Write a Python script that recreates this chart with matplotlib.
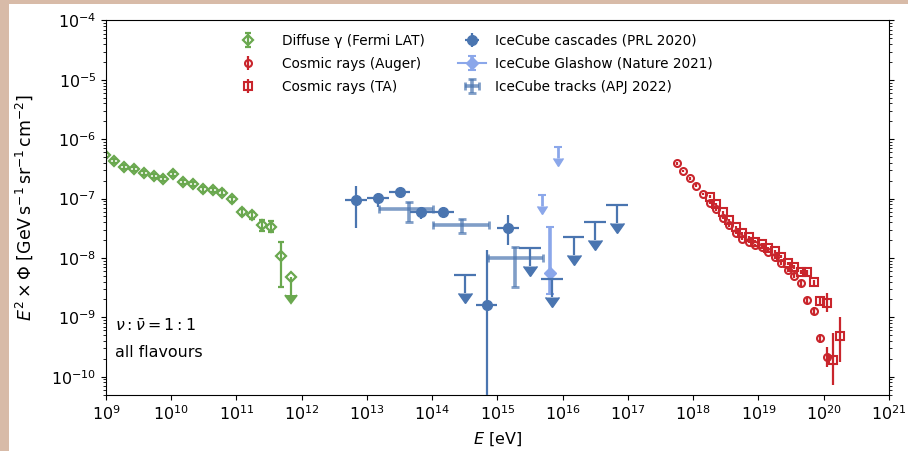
import matplotlib.pyplot as plt
import numpy as np
from matplotlib import lines as mlines
from matplotlib.patches import Rectangle
from matplotlib.ticker import LogLocator, NullLocator

GREEN = "#6aa84f"
RED = "#c9252c"
BLUE = "#4a75b0"
LIGHT_BLUE = "#8ba7ea"
BORDER = "#d8bba8"

# Fermi LAT diffuse gamma-ray background [eV], E^2 Phi [GeV s^-1 sr^-1 cm^-2]
fermi_E = [9.5e8, 1.34e9, 1.90e9, 2.69e9, 3.80e9, 5.38e9, 7.60e9, 1.08e10,
           1.52e10, 2.15e10, 3.04e10, 4.30e10, 6.08e10, 8.61e10, 1.22e11,
           1.72e11, 2.43e11, 3.44e11, 4.87e11]
fermi_flux = [5.43e-7, 4.30e-7, 3.45e-7, 3.19e-7, 2.67e-7, 2.40e-7, 2.17e-7,
              2.57e-7, 1.88e-7, 1.76e-7, 1.43e-7, 1.40e-7, 1.26e-7, 9.73e-8,
              6.03e-8, 5.30e-8, 3.55e-8, 3.36e-8, 1.09e-8]
fermi_lo = [5.0e-7, 3.97e-7, 3.18e-7, 2.94e-7, 2.46e-7, 2.21e-7, 2.0e-7,
            2.37e-7, 1.73e-7, 1.62e-7, 1.31e-7, 1.28e-7, 1.15e-7, 8.8e-8,
            5.3e-8, 4.6e-8, 2.85e-8, 2.7e-8, 3.28e-9]
fermi_hi = [5.86e-7, 4.64e-7, 3.72e-7, 3.44e-7, 2.88e-7, 2.59e-7, 2.34e-7,
            2.77e-7, 2.03e-7, 1.90e-7, 1.55e-7, 1.52e-7, 1.37e-7, 1.07e-7,
            6.8e-8, 6.0e-8, 4.4e-8, 4.2e-8, 1.88e-8]
fermi_ul_E = [6.88e11]
fermi_ul_flux = [4.79e-9]

# Pierre Auger Observatory
auger_E = [5.62e17, 7.08e17, 8.91e17, 1.12e18, 1.41e18, 1.78e18, 2.24e18,
           2.82e18, 3.55e18, 4.47e18, 5.62e18, 7.08e18, 8.91e18, 1.12e19,
           1.41e19, 1.78e19, 2.24e19, 2.82e19, 3.55e19, 4.47e19, 5.62e19,
           7.08e19, 8.91e19, 1.12e20]
auger_flux = [3.94e-7, 2.92e-7, 2.20e-7, 1.65e-7, 1.20e-7, 8.53e-8, 6.61e-8,
              4.77e-8, 3.55e-8, 2.67e-8, 2.11e-8, 1.88e-8, 1.67e-8, 1.51e-8,
              1.28e-8, 1.03e-8, 8.13e-9, 6.28e-9, 4.98e-9, 3.74e-9, 1.94e-9,
              1.28e-9, 4.44e-10, 2.17e-10]
auger_lo = [3.75e-7, 2.78e-7, 2.09e-7, 1.57e-7, 1.14e-7, 8.1e-8, 6.28e-8,
            4.53e-8, 3.37e-8, 2.54e-8, 2.0e-8, 1.79e-8, 1.59e-8, 1.43e-8,
            1.21e-8, 9.7e-9, 7.6e-9, 5.8e-9, 4.6e-9, 3.4e-9, 1.71e-9,
            1.10e-9, 3.70e-10, 1.47e-10]
auger_hi = [4.13e-7, 3.06e-7, 2.31e-7, 1.73e-7, 1.26e-7, 8.96e-8, 6.94e-8,
            5.01e-8, 3.73e-8, 2.80e-8, 2.22e-8, 1.97e-8, 1.75e-8, 1.59e-8,
            1.35e-8, 1.09e-8, 8.7e-9, 6.8e-9, 5.4e-9, 4.1e-9, 2.2e-9,
            1.50e-9, 5.24e-10, 3.17e-10]

# Telescope Array
ta_E = [1.78e18, 2.24e18, 2.82e18, 3.55e18, 4.47e18, 5.62e18, 7.08e18,
        8.91e18, 1.12e19, 1.41e19, 1.78e19, 2.24e19, 2.82e19, 3.55e19,
        4.47e19, 5.62e19, 7.08e19, 8.91e19, 1.12e20, 1.41e20, 1.78e20]
ta_flux = [1.08e-7, 8.02e-8, 5.88e-8, 4.37e-8, 3.29e-8, 2.61e-8, 2.23e-8,
           1.88e-8, 1.70e-8, 1.47e-8, 1.29e-8, 1.05e-8, 8.13e-9, 7.13e-9,
           5.74e-9, 5.74e-9, 3.89e-9, 1.91e-9, 1.72e-9, 1.91e-10, 4.85e-10]
ta_lo = [1.03e-7, 7.65e-8, 5.6e-8, 4.16e-8, 3.13e-8, 2.48e-8, 2.12e-8,
         1.78e-8, 1.61e-8, 1.39e-8, 1.22e-8, 9.9e-9, 7.6e-9, 6.6e-9,
         5.3e-9, 5.2e-9, 3.55e-9, 1.62e-9, 1.25e-9, 7.26e-11, 1.79e-10]
ta_hi = [1.13e-7, 8.4e-8, 6.16e-8, 4.58e-8, 3.45e-8, 2.74e-8, 2.34e-8,
         1.98e-8, 1.79e-8, 1.55e-8, 1.36e-8, 1.11e-8, 8.7e-9, 7.7e-9,
         6.2e-9, 6.3e-9, 4.25e-9, 2.2e-9, 2.54e-9, 5.38e-10, 1.03e-9]

# IceCube cascades: measured bins
casc_E = [6.81e12, 1.47e13, 3.16e13, 6.81e13, 1.47e14, 6.81e14, 1.47e15]
casc_E_lo = [4.64e12, 1.0e13, 2.15e13, 4.64e13, 1.0e14, 4.64e14, 1.0e15]
casc_E_hi = [1.0e13, 2.15e13, 4.64e13, 1.0e14, 2.15e14, 1.0e15, 2.15e15]
casc_flux = [9.48e-8, 1.01e-7, 1.31e-7, 5.88e-8, 6.02e-8, 1.61e-9, 3.24e-8]
casc_lo = [3.16e-8, 7.31e-8, 1.15e-7, 4.48e-8, 5.1e-8, 1e-13, 1.65e-8]
casc_hi = [1.63e-7, 1.23e-7, 1.45e-7, 7.31e-8, 7.1e-8, 1.36e-8, 5.29e-8]

# IceCube cascades: upper limits
casc_ul_E = [3.16e14, 3.16e15, 6.81e15, 1.47e16, 3.16e16, 6.81e16]
casc_ul_E_lo = [2.15e14, 2.15e15, 4.64e15, 1.0e16, 2.15e16, 4.64e16]
casc_ul_E_hi = [4.64e14, 4.64e15, 1.0e16, 2.15e16, 4.64e16, 1.0e17]
casc_ul_flux = [5.17e-9, 1.46e-8, 4.37e-9, 2.28e-8, 4.08e-8, 7.80e-8]

# IceCube Glashow resonance event
glashow_E = [6.3e15]
glashow_flux = [5.58e-9]
glashow_lo = [2.47e-9]
glashow_hi = [3.36e-8]
glashow_ul_E = [4.75e15, 8.55e15]
glashow_ul_flux = [1.15e-7, 7.31e-7]

# IceCube through-going tracks
tracks_E = [4.45e13, 2.89e14, 1.85e15]
tracks_E_lo = [1.54e13, 1.04e14, 7.23e14]
tracks_E_hi = [1.04e14, 7.48e14, 5.04e15]
tracks_flux = [6.61e-8, 3.60e-8, 1.01e-8]
tracks_lo = [4.08e-8, 2.67e-8, 3.28e-9]
tracks_hi = [8.87e-8, 4.48e-8, 1.51e-8]


def asym(val, lo, hi):
    val = np.asarray(val)
    return [val - np.asarray(lo), np.asarray(hi) - val]


def set_arrow_size(container, size, color, mew=1.0):
    # errorbar sizes the limit carets from capsize; override them directly
    for cap in container.lines[1]:
        if cap.get_marker() in (mlines.CARETDOWNBASE, mlines.CARETUPBASE):
            cap.set_markersize(size)
            cap.set_markeredgewidth(mew)
            cap.set_markerfacecolor(color)
            cap.set_markeredgecolor(color)


fig = plt.figure(figsize=(9.08, 4.51), dpi=100)
fig.patch.set_facecolor("white")
fig.patches.append(Rectangle((0, 0), 8.5 / 908, 1, transform=fig.transFigure,
                             facecolor=BORDER, edgecolor="none", zorder=-1))
fig.patches.append(Rectangle((0, 1 - 4 / 451), 1, 4 / 451,
                             transform=fig.transFigure, facecolor=BORDER,
                             edgecolor="none", zorder=-1))

ax = fig.add_axes([0.1167, 0.1242, 0.8623, 0.8304])

# gamma rays
h_fermi = ax.errorbar(fermi_E, fermi_flux, yerr=asym(fermi_flux, fermi_lo, fermi_hi),
                      fmt="D", ms=4.8, mfc="none", mec=GREEN, mew=1.6,
                      color=GREEN, elinewidth=1.6, capsize=2, capthick=1.4,
                      label="Diffuse γ (Fermi LAT)")
ul = ax.errorbar(fermi_ul_E, fermi_ul_flux, yerr=0.5 * np.array(fermi_ul_flux),
                 uplims=True, fmt="D", ms=4.8, mfc="none", mec=GREEN, mew=1.6,
                 color=GREEN, elinewidth=1.6, capsize=0)
set_arrow_size(ul, 8, GREEN, mew=1.5)

# cosmic rays
h_auger = ax.errorbar(auger_E, auger_flux, yerr=asym(auger_flux, auger_lo, auger_hi),
                      fmt="o", ms=5, mfc="none", mew=1.5, color=RED,
                      elinewidth=1.6, capsize=0, label="Cosmic rays (Auger)")
h_ta = ax.errorbar(ta_E, ta_flux, yerr=asym(ta_flux, ta_lo, ta_hi),
                   fmt="s", ms=5.2, mfc="none", mew=1.5, color=RED,
                   elinewidth=1.6, capsize=0, label="Cosmic rays (TA)")

# neutrinos
h_tracks = ax.errorbar(tracks_E, tracks_flux,
                       xerr=asym(tracks_E, tracks_E_lo, tracks_E_hi),
                       yerr=asym(tracks_flux, tracks_lo, tracks_hi),
                       fmt="none", color=BLUE, ecolor=BLUE, alpha=0.7,
                       elinewidth=2.6, capsize=3, capthick=2, zorder=3,
                       label="IceCube tracks (APJ 2022)")
h_casc = ax.errorbar(casc_E, casc_flux,
                     xerr=asym(casc_E, casc_E_lo, casc_E_hi),
                     yerr=asym(casc_flux, casc_lo, casc_hi),
                     fmt="o", ms=7, color=BLUE, elinewidth=1.6, capsize=0,
                     zorder=5, label="IceCube cascades (PRL 2020)")
ul = ax.errorbar(casc_ul_E, casc_ul_flux,
                 xerr=asym(casc_ul_E, casc_ul_E_lo, casc_ul_E_hi),
                 yerr=0.5 * np.array(casc_ul_flux), uplims=True, fmt="none",
                 color=BLUE, ecolor=BLUE, elinewidth=1.6, capsize=0, zorder=5)
set_arrow_size(ul, 9.5, BLUE)

h_glashow = ax.errorbar(glashow_E, glashow_flux,
                        yerr=asym(glashow_flux, glashow_lo, glashow_hi),
                        fmt="D-", ms=6.5, color=LIGHT_BLUE, elinewidth=2.6,
                        capsize=3, capthick=1.5, zorder=4,
                        label="IceCube Glashow (Nature 2021)")
ul = ax.errorbar(glashow_ul_E, glashow_ul_flux,
                 yerr=0.34 * np.array(glashow_ul_flux), uplims=True,
                 fmt="none", color=LIGHT_BLUE, ecolor=LIGHT_BLUE,
                 elinewidth=2, capsize=3, capthick=1.5, zorder=4)
set_arrow_size(ul, 7.5, LIGHT_BLUE)

ax.set_xscale("log")
ax.set_yscale("log")
ax.set_xlim(1e9, 1e21)
ax.set_ylim(4.92e-11, 1e-4)
ax.xaxis.set_major_locator(LogLocator(base=10, numticks=20))
ax.xaxis.set_minor_locator(NullLocator())
ax.tick_params(which="both", right=True, labelsize=11.4)

ax.set_xlabel(r"$E$ [eV]", fontsize=11.5, labelpad=5)
ax.set_ylabel(r"$E^2 \times \Phi$ $[\mathrm{GeV\,s^{-1}\,sr^{-1}\,cm^{-2}}]$",
              fontsize=12.5, labelpad=12)

ax.text(0.012, 0.184, "$\\nu:\\bar{\\nu} = 1:1$", transform=ax.transAxes,
        fontsize=11.4, va="center", ha="left")
ax.text(0.012, 0.113, "all flavours", transform=ax.transAxes,
        fontsize=11.4, va="center", ha="left")

leg_left = ax.legend(handles=[h_fermi, h_auger, h_ta], frameon=False,
                     fontsize=9.85, loc="upper left",
                     bbox_to_anchor=(0.164, 0.964), borderaxespad=0,
                     borderpad=0, labelspacing=0.65, handletextpad=1.5)
ax.add_artist(leg_left)
ax.legend(handles=[h_casc, h_glashow, h_tracks], frameon=False,
          fontsize=9.85, loc="upper left", bbox_to_anchor=(0.450, 0.964),
          borderaxespad=0, borderpad=0, labelspacing=0.65, handletextpad=0.7)

fig.savefig("out.png", dpi=100)
